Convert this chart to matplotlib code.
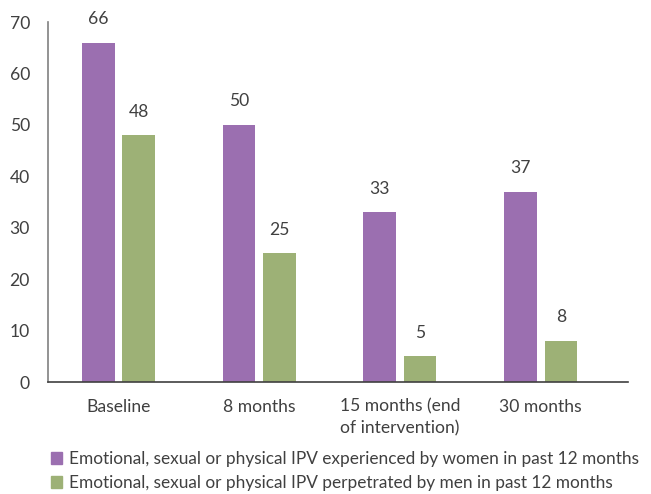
import matplotlib.pyplot as plt
from matplotlib.patches import Patch

plt.rcParams['font.family'] = ['Lato', 'DejaVu Sans']

categories = ['Baseline', '8 months', '15 months (end\nof intervention)', '30 months']
women = [66, 50, 33, 37]
men = [48, 25, 5, 8]
series_names = ['Emotional, sexual or physical IPV experienced by women in past 12 months',
                'Emotional, sexual or physical IPV perpetrated by men in past 12 months']

purple = '#9b6fb0'
green = '#9db176'
text_col = '#404040'
fs = 12.6

fig = plt.figure(figsize=(6.51, 4.94), dpi=100)
ax = fig.add_axes([48 / 651, 112 / 494, 580 / 651, 360 / 494])

x = range(len(categories))
w = 0.232
off = 0.143
b1 = ax.bar([i - off for i in x], women, w, color=purple)
b2 = ax.bar([i + off for i in x], men, w, color=green)

for bars, vals in ((b1, women), (b2, men)):
    for r, v in zip(bars, vals):
        ax.text(r.get_x() + r.get_width() / 2, v + 3, str(v), ha='center', va='bottom',
                fontsize=fs, color=text_col)

ax.set_ylim(0, 70)
ax.set_xlim(-0.5, 3.62)
ax.set_yticks(range(0, 71, 10))
ax.set_xticks(list(x))
ax.set_xticklabels(categories, linespacing=1.45)
ax.tick_params(length=0, labelsize=fs, colors=text_col)
ax.tick_params(axis='x', pad=12)
ax.tick_params(axis='y', pad=13)
for s in ('top', 'right'):
    ax.spines[s].set_visible(False)
ax.spines['left'].set_color('#808080')
ax.spines['bottom'].set_color('#404040')
ax.spines['left'].set_linewidth(1.2)
ax.spines['bottom'].set_linewidth(1.2)

handles = [Patch(color=purple), Patch(color=green)]
fig.legend(handles, series_names, loc='lower left', bbox_to_anchor=(42 / 651, -0.011),
           frameon=False, fontsize=12.4, labelcolor=text_col, handlelength=0.65, handleheight=0.65,
           handletextpad=0.4, labelspacing=0.45, borderaxespad=0.1)

fig.savefig('out.png', dpi=100)
